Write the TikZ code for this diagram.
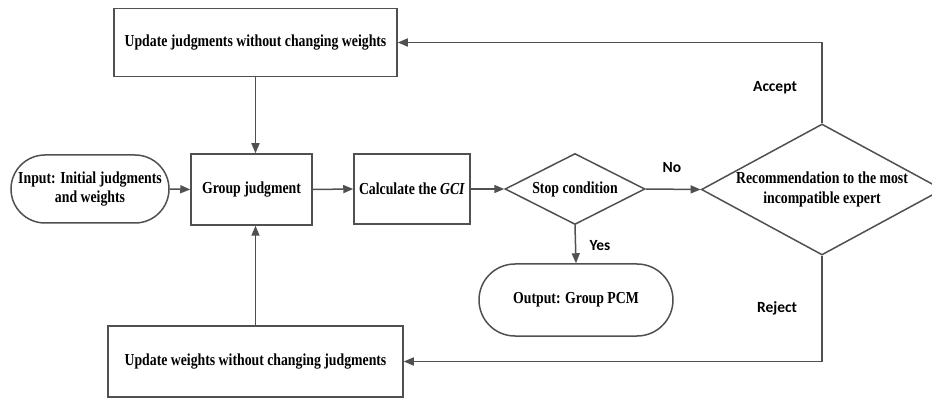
\documentclass[tikz,border=0pt]{standalone}
\usepackage{fontspec}
\setmainfont{Liberation Serif}[FakeStretch=0.82]
\newfontfamily\labfont{Carlito}
\usetikzlibrary{shapes.geometric,shapes.misc,arrows.meta}
\definecolor{linegray}{HTML}{505050}
\tikzset{
  base/.style={draw=linegray, line width=1.5pt, inner sep=0pt, align=center,
    font=\fontsize{16.8}{19.5}\selectfont\bfseries, text=black},
  procbox/.style={base, rectangle},
  termbox/.style={base, rounded rectangle},
  decbox/.style={base, diamond, aspect=2},
  conn/.style={draw=linegray, line width=1.5pt, -{Triangle[length=10pt,width=8pt]}},
  lab/.style={font=\labfont\fontsize{15.5}{18}\selectfont\bfseries, text=black, inner sep=0pt}
}
\begin{document}
\begin{tikzpicture}[x=1pt,y=-1pt]
\useasboundingbox (0,0) rectangle (932,398);
\node[procbox, minimum width=283, minimum height=68] (top) at (255.5,42.5) {Update judgments without changing weights};
\node[termbox, minimum width=158, minimum height=68] (in) at (90,189) {Input: Initial judgments\\and weights};
\node[procbox, minimum width=121, minimum height=71] (grp) at (251.5,189.5) {Group judgment};
\node[procbox, minimum width=116, minimum height=70] (calc) at (412,189) {Calculate the \textit{GCI}};
\node[decbox, minimum width=140, minimum height=71] (stop) at (575,189) {Stop condition};
\node[decbox, minimum width=240, minimum height=131] (rec) at (822,189.5) {Recommendation to the most\\incompatible expert};
\node[termbox, minimum width=194, minimum height=72] (out) at (576,300) {Output: Group PCM};
\node[procbox, minimum width=295, minimum height=71] (bot) at (255.5,361.5) {Update weights without changing judgments};
\draw[conn] (in.east) -- (grp.west);
\draw[conn] (grp.east) -- (calc.west);
\draw[conn] (calc.east) -- (stop.west);
\draw[conn] (stop.east) -- (rec.west);
\draw[conn] (stop.south) -- (out.north);
\draw[conn] (rec.north) |- (top.east);
\draw[conn] (rec.south) |- (bot.east);
\draw[conn] (top.south) -- (top.south |- grp.north);
\draw[conn] (bot.north) -- (bot.north |- grp.south);
\node[lab] (lno) at (672,168) {No};
\node[lab] (lyes) at (600,246) {Yes};
\node[lab] (lacc) at (775,88) {Accept};
\node[lab] (lrej) at (777,308) {Reject};
\end{tikzpicture}
\end{document}
